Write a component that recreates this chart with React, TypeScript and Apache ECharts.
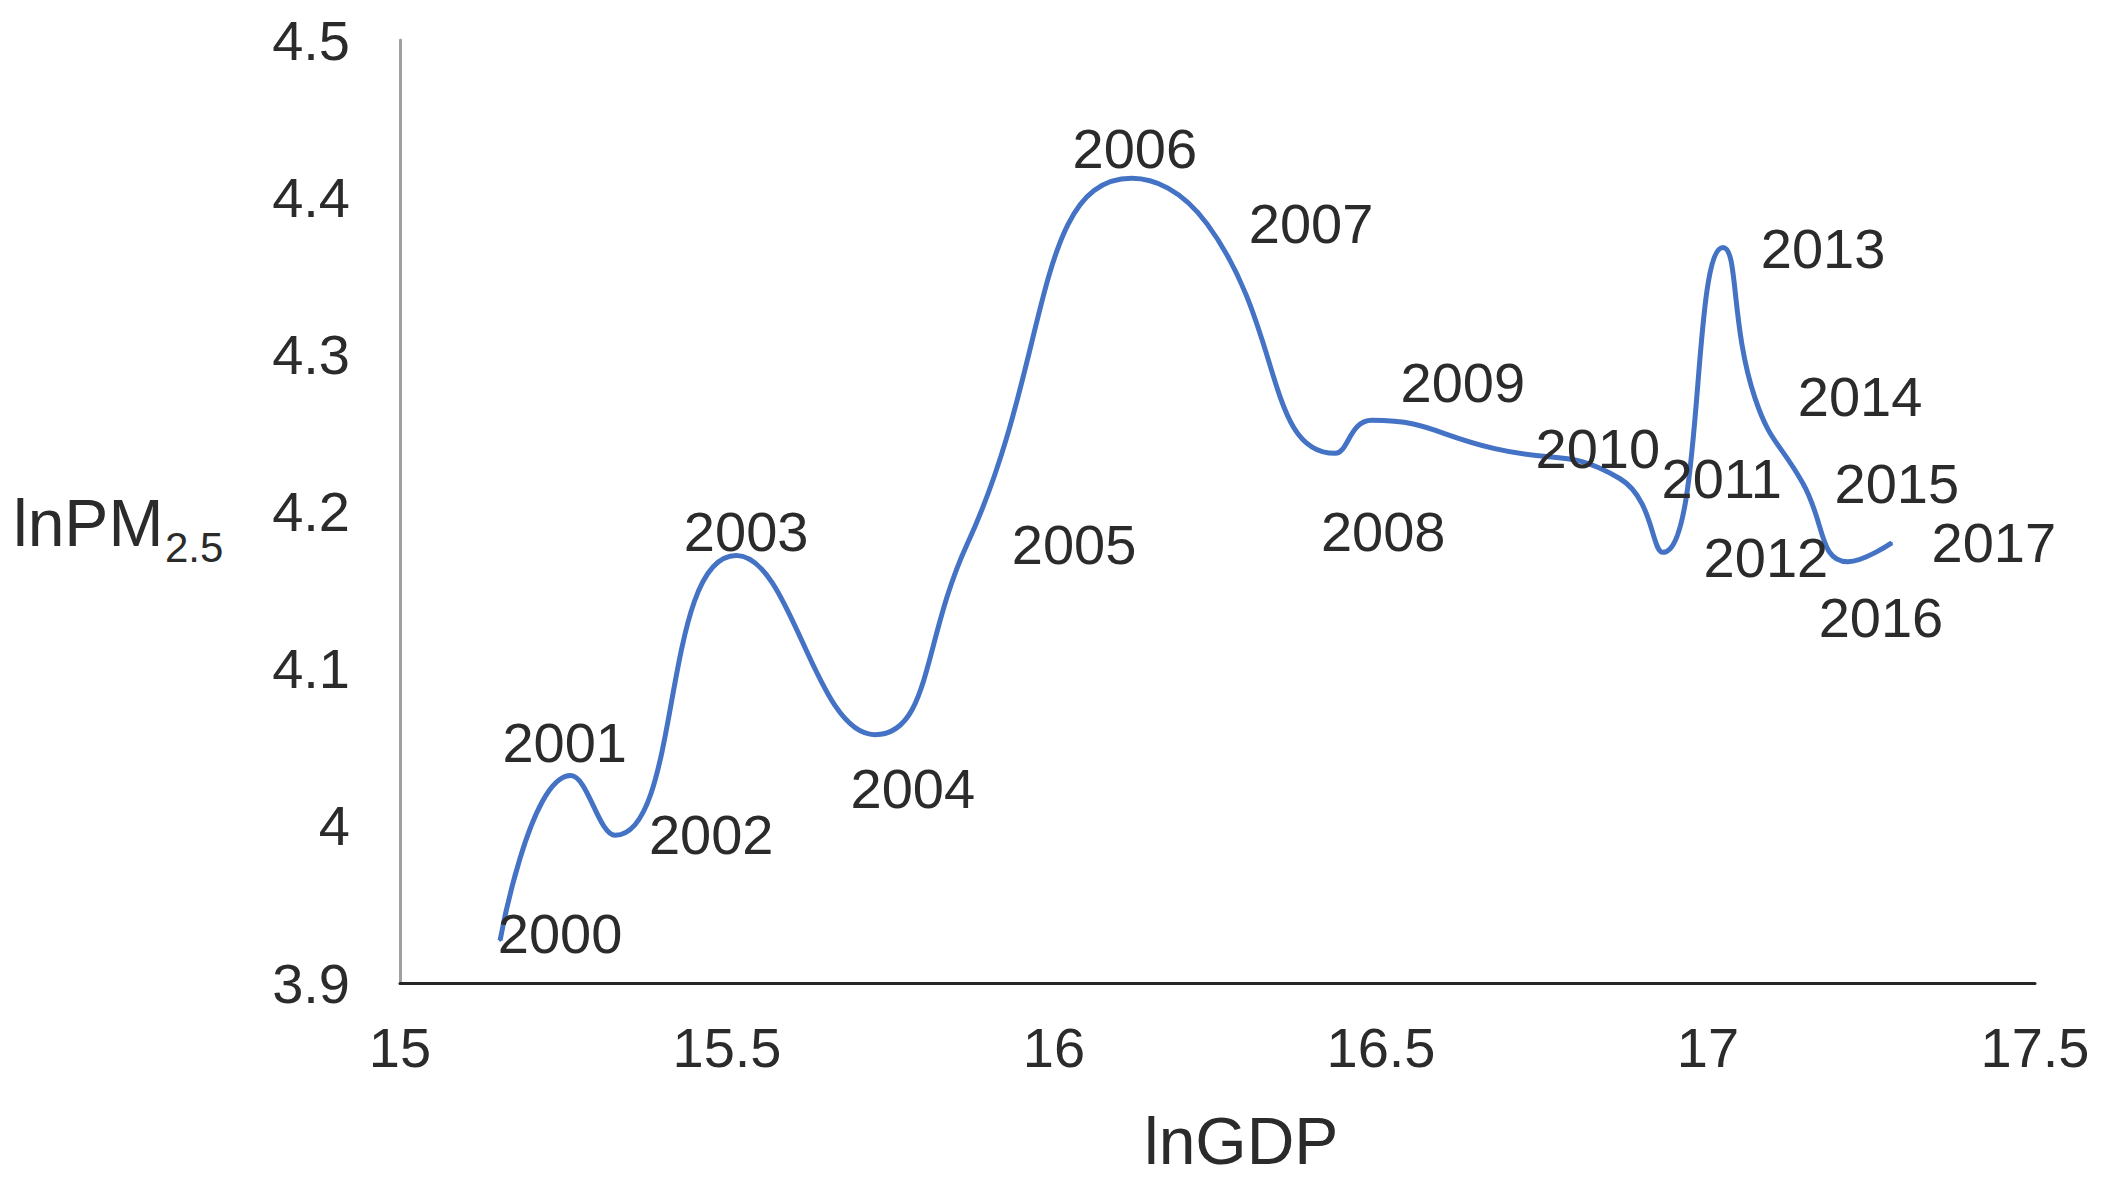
import React, { useEffect, useRef } from "react";
import * as echarts from "echarts";

// Years (data labels)
const years: string[] = [
  "2000", "2001", "2002", "2003", "2004", "2005", "2006", "2007", "2008",
  "2009", "2010", "2011", "2012", "2013", "2014", "2015", "2016", "2017",
];

// lnGDP (x)
const lnGDP: number[] = [
  15.153, 15.261, 15.329, 15.514, 15.726, 15.867, 16.119, 16.234, 16.43,
  16.486, 16.674, 16.865, 16.931, 17.023, 17.072, 17.145, 17.214, 17.281,
];

// lnPM2.5 (y)
const lnPM25: number[] = [
  3.927, 4.032, 3.994, 4.172, 4.058, 4.179, 4.412, 4.383, 4.237,
  4.258, 4.24, 4.221, 4.174, 4.368, 4.272, 4.218, 4.168, 4.18,
];

// Axis settings
const X_MIN = 15;
const X_MAX = 17.5;
const X_STEP = 0.5;
const Y_MIN = 3.9;
const Y_MAX = 4.5;
const Y_STEP = 0.1;

// Label placement (pixel offsets of each year label centre from its point)
const LABEL_OFFSETS: [number, number][] = [
  [60, -7], [-6, -33], [96, -1], [10, -24], [38, 54], [107, 0], [3, -30],
  [104, 0], [48, 78], [91, -38], [103, 0], [102, 0], [103, 5], [100, 1],
  [105, -2], [94, 0], [33, 56], [102, 0],
];

const FONT = "'Liberation Sans', Arial, sans-serif";
const TEXT_COLOR = "#2b2b2b";
const SYMBOL_SIZE = 2;

export default function App() {
  const ref = useRef<HTMLDivElement>(null);

  useEffect(() => {
    document.body.style.margin = "0";
    document.body.style.overflow = "hidden";
    if (!ref.current) return;
    const chart = echarts.init(ref.current, undefined, { renderer: "svg" });

    const half = SYMBOL_SIZE / 2;
    const data = lnGDP.map((x, i) => ({
      value: [x, lnPM25[i]],
      name: years[i],
      label: {
        show: true,
        position: [LABEL_OFFSETS[i][0] + half, LABEL_OFFSETS[i][1] + half],
        align: "center",
        verticalAlign: "middle",
      },
    }));

    chart.setOption({
      animation: false,
      backgroundColor: "#ffffff",
      grid: { left: 400, right: 70, top: 40, bottom: 199, containLabel: false },
      xAxis: {
        type: "value",
        min: X_MIN,
        max: X_MAX,
        interval: X_STEP,
        axisLine: { show: true, onZero: false, lineStyle: { color: "#262626", width: 3 } },
        axisTick: { show: false },
        splitLine: { show: false },
        axisLabel: {
          margin: 36,
          fontSize: 56,
          fontFamily: FONT,
          color: TEXT_COLOR,
        },
      },
      yAxis: {
        type: "value",
        min: Y_MIN,
        max: Y_MAX,
        interval: Y_STEP,
        axisLine: { show: true, onZero: false, lineStyle: { color: "#a0a0a0", width: 3 } },
        axisTick: { show: false },
        splitLine: { show: false },
        axisLabel: {
          margin: 50,
          fontSize: 56,
          fontFamily: FONT,
          color: TEXT_COLOR,
        },
      },
      graphic: [
        {
          type: "text",
          left: 13,
          top: 490,
          style: {
            text: "lnPM",
            fontSize: 66,
            fontFamily: FONT,
            fill: TEXT_COLOR,
          },
        },
        {
          type: "text",
          left: 165,
          top: 526,
          style: {
            text: "2.5",
            fontSize: 42,
            fontFamily: FONT,
            fill: TEXT_COLOR,
          },
        },
        {
          type: "text",
          left: 1144,
          top: 1108,
          style: {
            text: "lnGDP",
            fontSize: 66,
            fontFamily: FONT,
            fill: TEXT_COLOR,
          },
        },
      ],
      series: [
        {
          type: "line",
          data,
          smooth: 0.5,
          symbol: "circle",
          symbolSize: SYMBOL_SIZE,
          showSymbol: true,
          itemStyle: { color: "#4472C4" },
          lineStyle: { color: "#4472C4", width: 5 },
          label: {
            show: true,
            formatter: (p: any) => p.name,
            fontSize: 56,
            fontFamily: FONT,
            color: TEXT_COLOR,
          },
          labelLayout: { hideOverlap: false },
          emphasis: { disabled: true },
        },
      ],
    });

    return () => chart.dispose();
  }, []);

  return <div ref={ref} style={{ width: "100vw", height: "100vh" }} />;
}
